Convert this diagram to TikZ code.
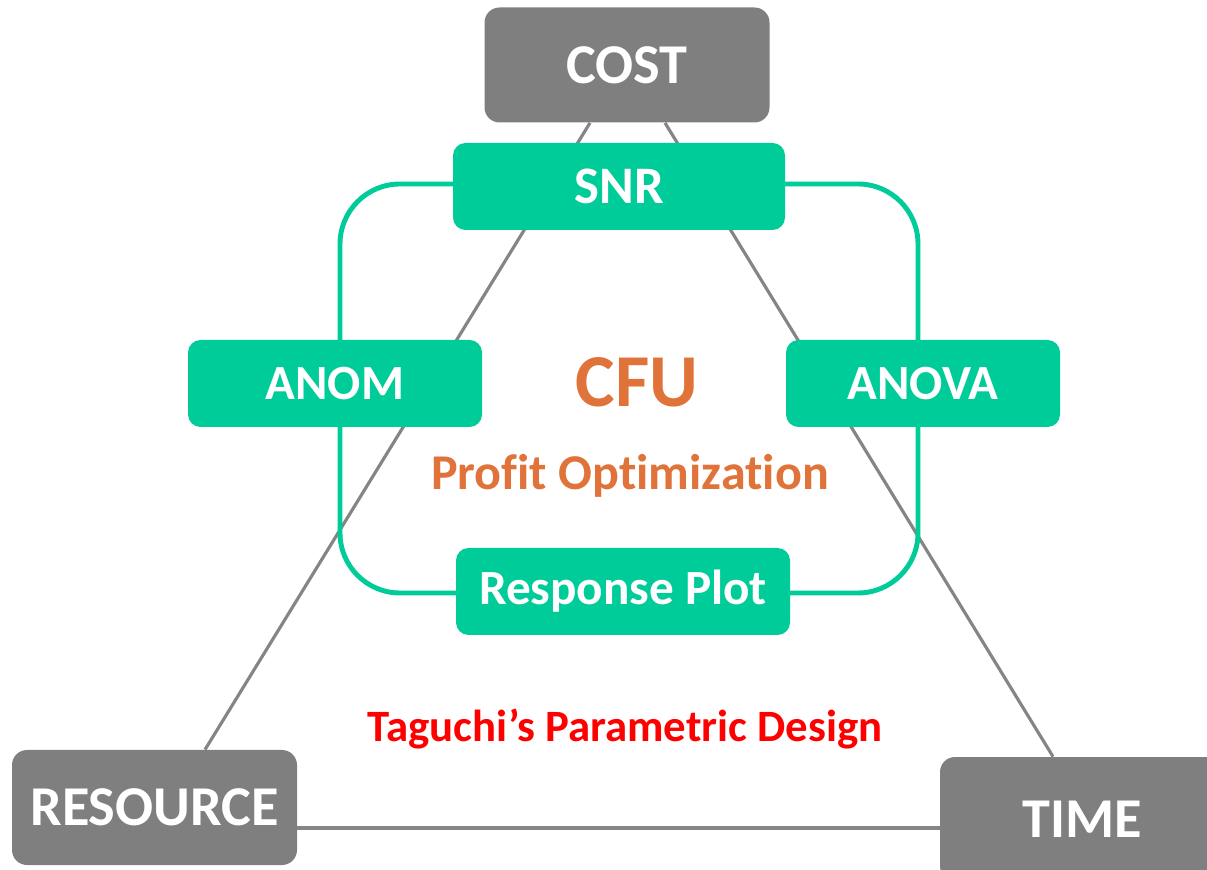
\documentclass[tikz,border=0pt]{standalone}
\usepackage{fontspec}
\setmainfont{Carlito}[Ligatures=NoCommon]

\definecolor{boxgray}{HTML}{7F7F7F}
\definecolor{linegray}{HTML}{858585}
\definecolor{toolgreen}{HTML}{00CC99}
\definecolor{cfuorange}{HTML}{E0733A}

\begin{document}
\begin{tikzpicture}[
    corner/.style={fill=boxgray,rounded corners=0.3cm,text=white,inner sep=0pt,
      minimum width=5.7cm,minimum height=2.3cm,
      font=\fontsize{32}{36}\selectfont\bfseries},
    tool/.style={fill=toolgreen,rounded corners=0.25cm,text=white,inner sep=0pt,
      minimum height=1.74cm,font=\fontsize{28}{32}\selectfont\bfseries},
    side/.style={draw=linegray,line width=1.8pt},
    cycleline/.style={draw=toolgreen,line width=2.8pt,rounded corners=1.2cm}
    ]

    \useasboundingbox (0,0) rectangle (24.14,17.38);
    \clip (0,0) rectangle (24.14,17.38);

    % the three constraints
    \node (cost) [corner] at (12.54,16.08) {COST};
    \node (res) [corner] at (3.09,1.23) {RESOURCE};
    \node (time) [corner,minimum height=2.48cm] at (21.65,1.0) {TIME};

    \draw[side] ([xshift=-0.74cm]cost.south) -- ([xshift=1.01cm]res.north);
    \draw[side] ([xshift=0.76cm]cost.south) -- ([xshift=-0.59cm]time.north);
    \draw[side] ([yshift=-0.41cm]res.east) -- ([yshift=-0.41cm]res.east -| time.west);

    % tool cycle
    \draw[cycleline] (6.8,13.7) rectangle (18.36,5.52);

    \node (snr) [tool,minimum width=6.64cm,font=\fontsize{30}{34}\selectfont\bfseries]
      at (12.38,13.65) {SNR};
    \node (anom) [tool,minimum width=5.88cm] at (6.70,9.71) {ANOM};
    \node (anova) [tool,minimum width=5.48cm] at (18.46,9.71) {ANOVA};
    \node (resp) [tool,minimum width=6.68cm] at (12.46,5.55) {Response Plot};

    \node (cfu) [anchor=base,text=cfuorange,font=\fontsize{42.5}{48}\selectfont\bfseries]
      at (12.74,9.24) {CFU};
    \node (profit) [anchor=base,text=cfuorange,font=\fontsize{28.5}{32}\selectfont\bfseries]
      at (12.6,7.58) {Profit Optimization};
    \node (design) [anchor=base,text=red,font=\fontsize{25.5}{30}\selectfont\bfseries]
      at (12.5,2.54) {Taguchi’s Parametric Design};

\end{tikzpicture}
\end{document}
